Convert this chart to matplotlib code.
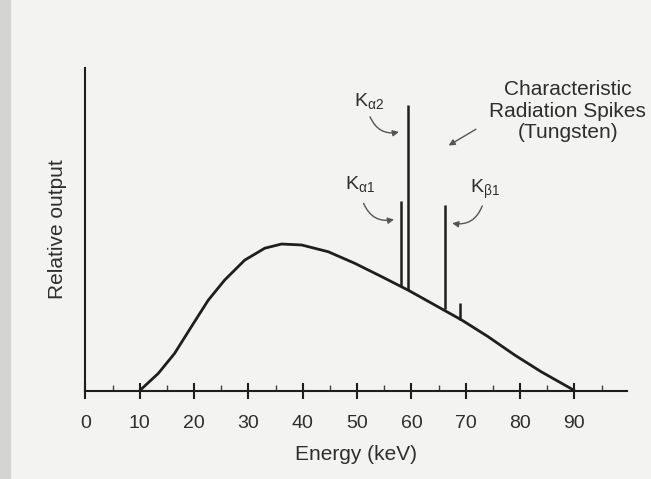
import matplotlib
matplotlib.use("Agg")
import matplotlib.pyplot as plt
from matplotlib.patches import Rectangle

plt.rcParams['font.family'] = ['Liberation Sans', 'DejaVu Sans']
plt.rcParams['mathtext.fontset'] = 'custom'
plt.rcParams['mathtext.rm'] = 'Liberation Sans'
plt.rcParams['mathtext.it'] = 'Liberation Sans:italic'

# bremsstrahlung curve (keV, relative output)
energy = [10, 13.4, 16.4, 19.5, 22.6, 25.6, 29.3, 33.0, 36.1, 39.8, 44.7,
          49.6, 54.5, 59.4, 64.3, 69.3, 74.1, 79.0, 83.9, 90]
output = [0, 5.3, 11.5, 19.8, 28.0, 34.2, 40.4, 44.1, 45.4, 45.1, 43.0,
          39.4, 35.3, 31.1, 26.5, 21.8, 16.7, 11.0, 5.8, 0]

# characteristic spikes
spike_energy = [58.1, 59.4, 66.2, 69.0]
spike_base = [32.3, 31.2, 25.4, 22.0]
spike_top = [58.6, 88.5, 57.5, 27.2]

# labels: text, text position, arrow tail, arrow head, bend
k_labels = [r'K$_{\mathrm{α2}}$', r'K$_{\mathrm{α1}}$', r'K$_{\mathrm{β1}}$']
k_text_xy = [(52.2, 89.8), (50.6, 63.9), (73.5, 62.3)]
k_tail = [(52.2, 85.6), (51.0, 58.8), (73.2, 58.0)]
k_head = [(58.2, 80.3), (57.3, 53.2), (67.0, 52.0)]
k_rad = [0.45, 0.45, -0.45]

xticks = [0, 10, 20, 30, 40, 50, 60, 70, 80, 90]
minor_ticks = [5, 15, 25, 35, 45, 55, 65, 75, 85, 95]

ink = '#1e1e1e'
txt = '#2e2e2e'
fig = plt.figure(figsize=(6.51, 4.79), dpi=100, facecolor='#f3f3f1')
fig.patches.append(Rectangle((0, 0), 0.016, 1, transform=fig.transFigure,
                             color='#d4d4d2', zorder=0))
ax = fig.add_axes([0.1313, 0.1847, 0.8312, 0.6737])
ax.set_facecolor('none')

ax.plot(energy, output, color=ink, lw=2.0, solid_joinstyle='round',
        solid_capstyle='round', clip_on=False)
ax.vlines(spike_energy, spike_base, spike_top, color=ink, lw=1.8)

for lab, xy, t, h, r in zip(k_labels, k_text_xy, k_tail, k_head, k_rad):
    ax.text(xy[0], xy[1], lab, fontsize=14, ha='center', va='center', color=txt)
    ax.annotate('', xy=h, xytext=t,
                arrowprops=dict(arrowstyle='-|>', color='#555555', lw=1.0,
                                mutation_scale=9,
                                connectionstyle='arc3,rad=%s' % r))

ax.text(88.8, 86.6, 'Characteristic\nRadiation Spikes\n(Tungsten)', fontsize=15,
        ha='center', va='center', linespacing=1.15, color=txt)
ax.annotate('', xy=(66.4, 75.5), xytext=(72.3, 81.4),
            arrowprops=dict(arrowstyle='-|>', color='#555555', lw=1.0,
                            mutation_scale=9))

ax.set_xlim(0, 99.6)
ax.set_ylim(0, 100)
for s in ['top', 'right']:
    ax.spines[s].set_visible(False)
ax.spines['left'].set_color(ink)
ax.spines['bottom'].set_color(ink)
ax.spines['left'].set_linewidth(1.5)
ax.spines['bottom'].set_linewidth(1.5)

ax.set_yticks([])
ax.set_xticks(xticks)
ax.set_xticks(minor_ticks, minor=True)
ax.tick_params(axis='x', which='major', direction='inout', length=11.5, width=1.5,
               color=ink, labelsize=14, pad=12, labelcolor=txt)
ax.tick_params(axis='x', which='minor', direction='in', length=4.5, width=1.0,
               color='#444444')

ax.set_xlabel('Energy (keV)', fontsize=15, color=txt, labelpad=9)
ax.set_ylabel('Relative output', fontsize=15, color=txt, labelpad=13)

fig.savefig('out.png', dpi=100, facecolor=fig.get_facecolor())
